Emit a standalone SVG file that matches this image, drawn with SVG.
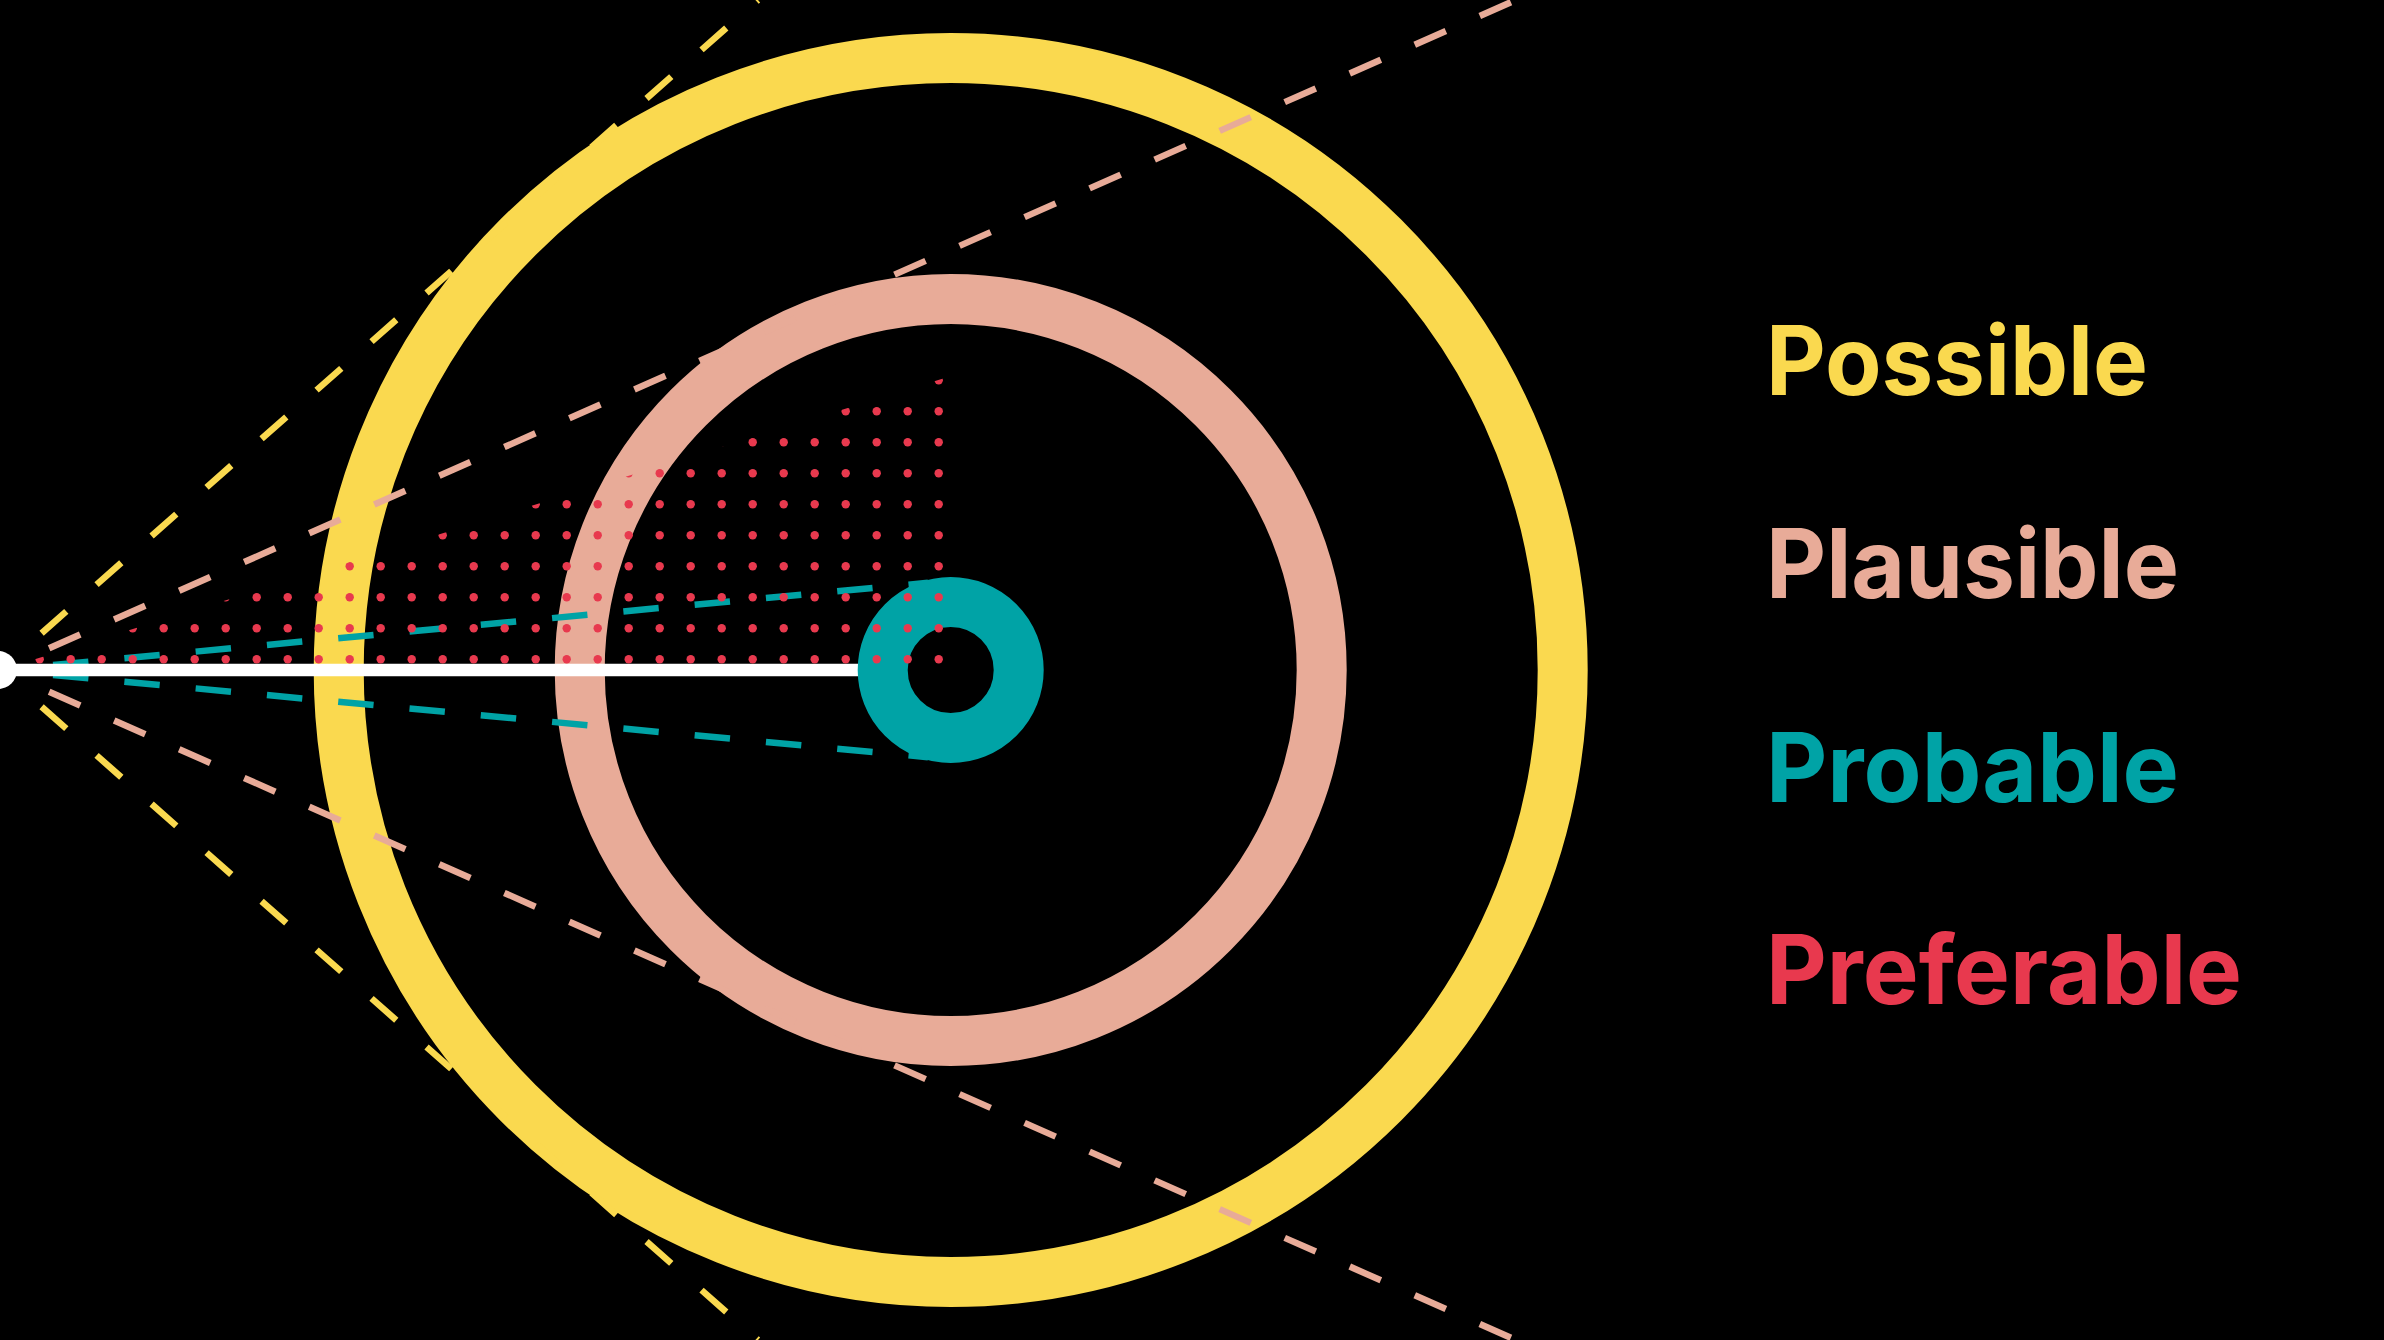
<svg xmlns="http://www.w3.org/2000/svg" width="2384" height="1340" viewBox="0 0 2384 1340">
  <style>
    .ring { fill: none; stroke-width: 50; }
    .ray { fill: none; stroke-width: 6.5; stroke-linecap: butt; }
    .yellow { stroke: #FAD94F; }
    .pink { stroke: #E8AB98; }
    .teal { stroke: #00A3A6; }
    .ray.yellow { stroke-dasharray: 33 40.4; stroke-dashoffset: 17.9; }
    .ray.pink { stroke-dasharray: 34 37.1; stroke-dashoffset: 17.4; }
    .ray.teal { stroke-dasharray: 35.5 36.1; stroke-dashoffset: 18.3; }
    .label { font-family: Inter, "Liberation Sans", sans-serif; font-weight: 700; font-size: 96px; }
  </style>
  <defs>
    <pattern id="dots" patternUnits="userSpaceOnUse" x="0" y="0" width="31" height="31">
      <circle cx="8.7" cy="8.3" r="4.2" fill="#E8394E"/>
    </pattern>
  </defs>

  <rect x="0" y="0" width="2384" height="1340" fill="#000000"/>

  <g id="possible">
    <circle class="ring yellow" cx="950.7" cy="670" r="612"/>
  </g>
  <g id="plausible">
    <circle class="ring pink" cx="950.7" cy="670" r="371"/>
  </g>

  <g id="connectors">
    <line class="ray yellow" x1="0" y1="670" x2="758" y2="0"/>
    <line class="ray yellow" x1="0" y1="670" x2="758" y2="1340"/>
    <line class="ray pink" x1="0" y1="670" x2="1515.8" y2="0"/>
    <line class="ray pink" x1="0" y1="670" x2="1515.8" y2="1340"/>
    <line class="ray teal" x1="0" y1="670" x2="928" y2="582.8"/>
    <line class="ray teal" x1="0" y1="670" x2="928" y2="757.2"/>
    <line id="timeline" x1="0" y1="670" x2="875" y2="670" stroke="#FFFFFF" stroke-width="12.5"/>
  </g>

  <g id="probable">
    <circle class="ring teal" cx="950.7" cy="670" r="68" stroke-width="49.5"/>
  </g>

  <g id="preferable">
    <polygon points="0,670 944,378.3 944,667" fill="url(#dots)"/>
  </g>

  <g id="present">
    <circle cx="-2" cy="670" r="19" fill="#FFFFFF"/>
  </g>

  <g id="labels">
    <text class="label" x="1766" y="395" fill="#FAD94F" textLength="382" lengthAdjust="spacingAndGlyphs">Possible</text>
    <text class="label" x="1766" y="598" fill="#E8AB98" textLength="413" lengthAdjust="spacingAndGlyphs">Plausible</text>
    <text class="label" x="1766" y="801.5" fill="#00A3A6" textLength="413" lengthAdjust="spacingAndGlyphs">Probable</text>
    <text class="label" x="1766" y="1004" fill="#E8394E" textLength="476" lengthAdjust="spacingAndGlyphs">Preferable</text>
  </g>
</svg>
